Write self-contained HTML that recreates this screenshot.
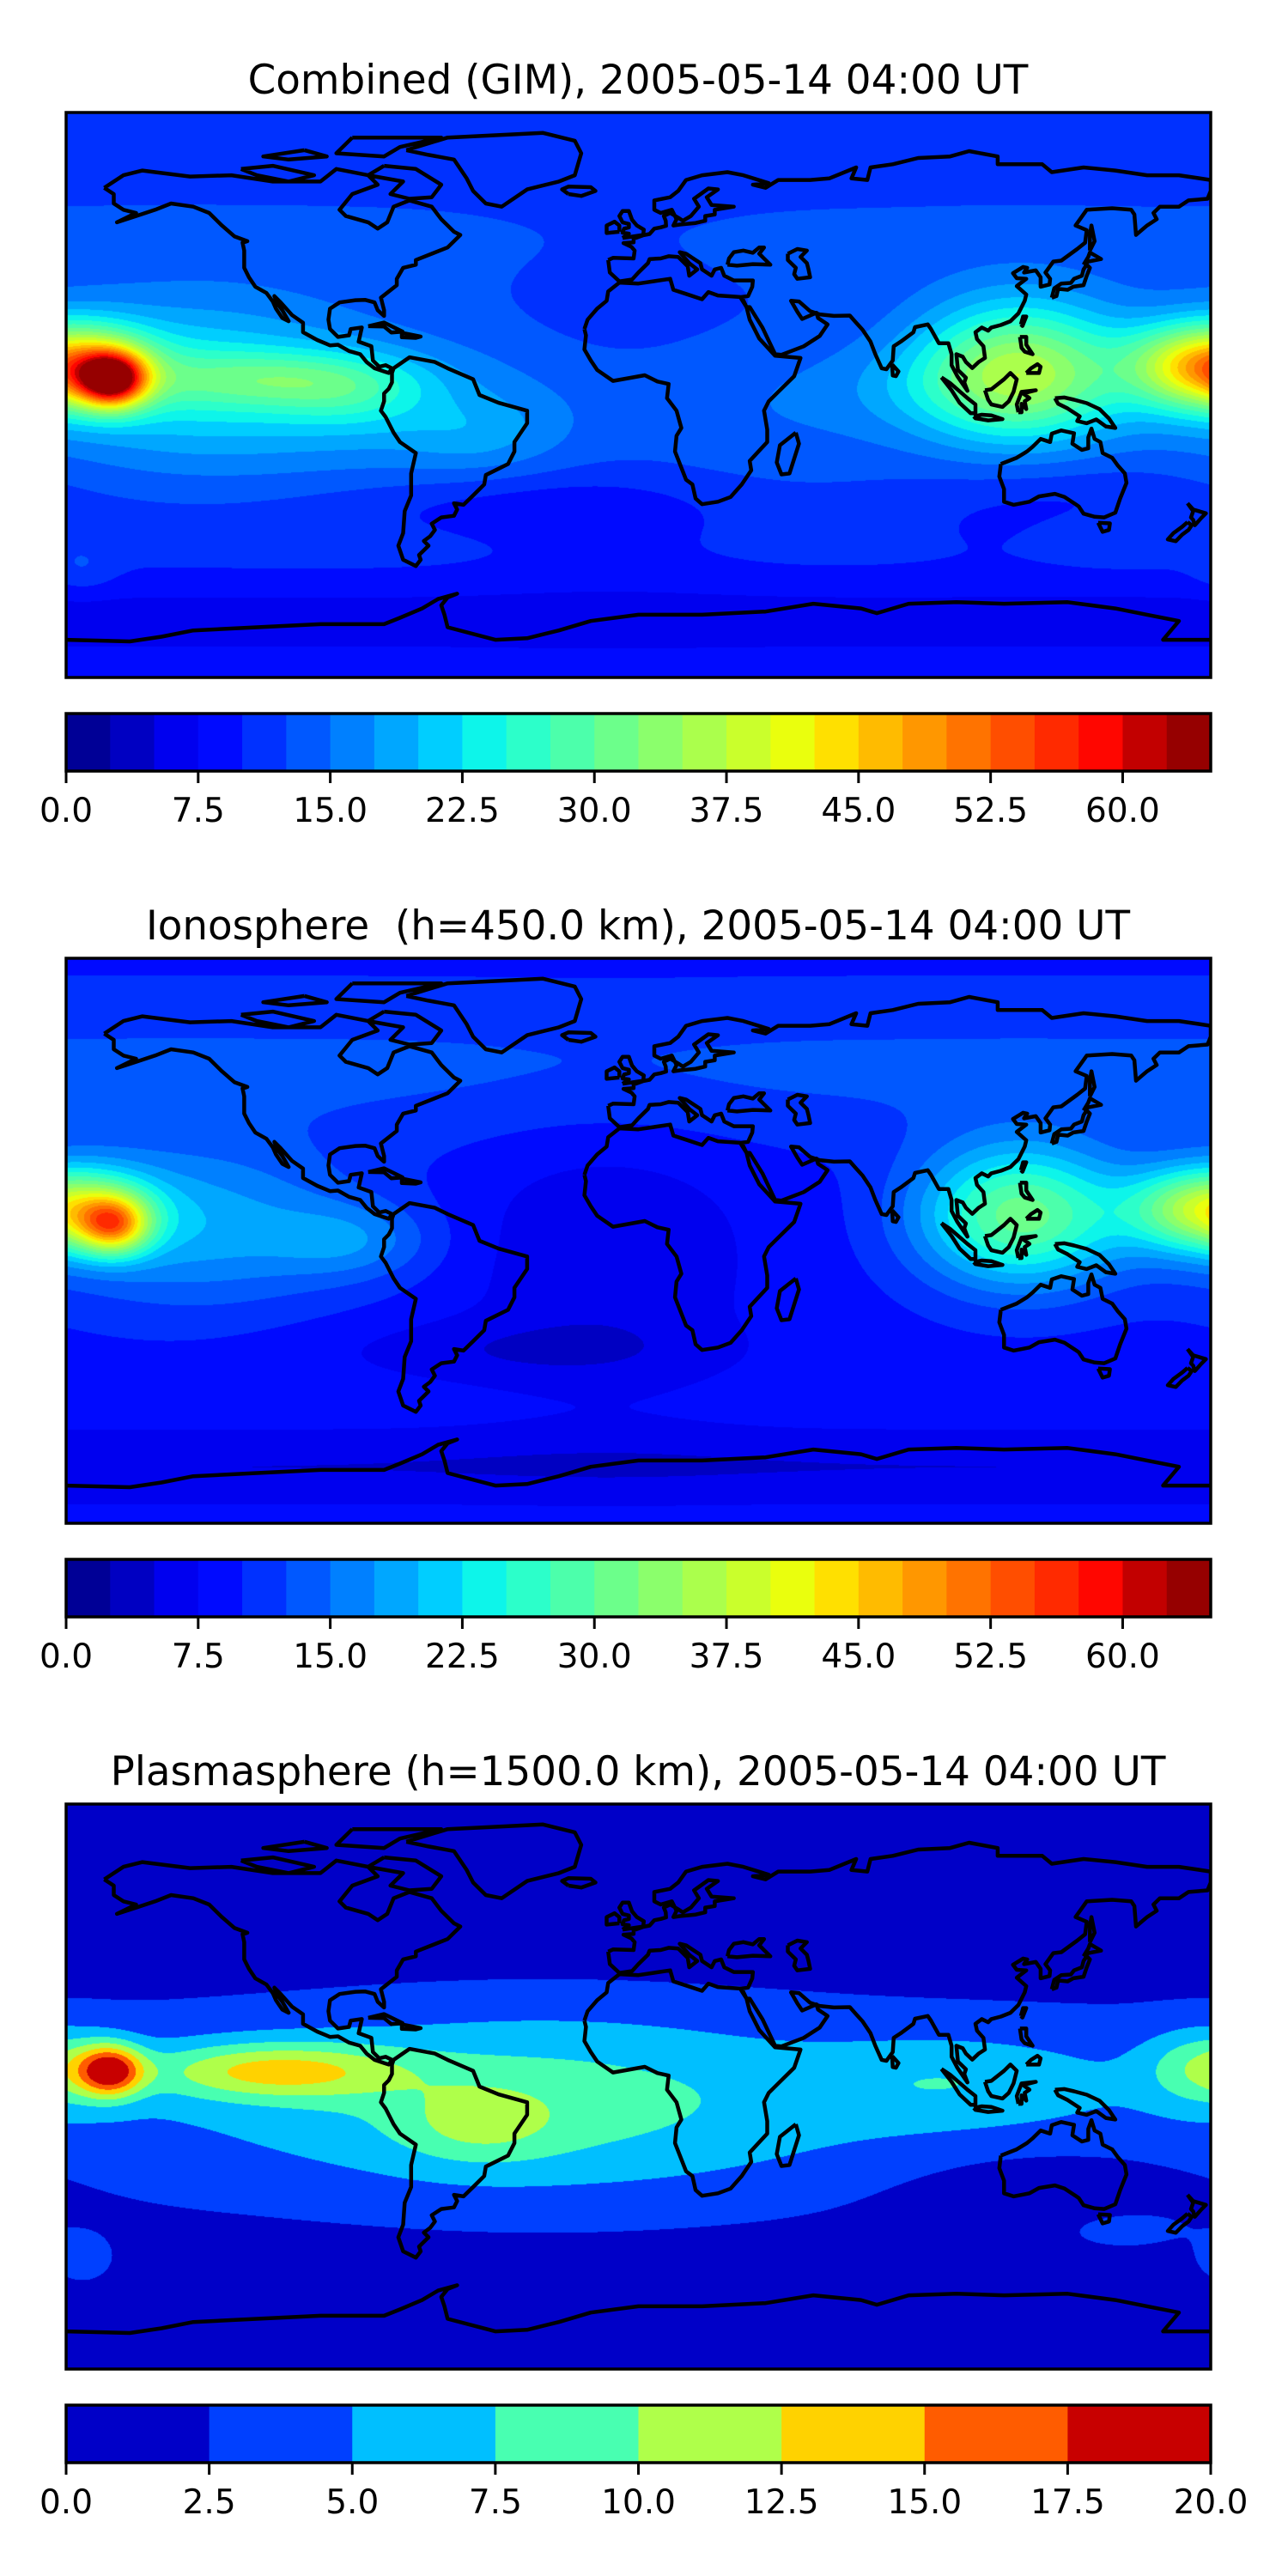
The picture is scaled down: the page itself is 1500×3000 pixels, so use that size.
<!DOCTYPE html>
<html><head><meta charset="utf-8">
<style>
html,body{margin:0;padding:0;background:#fff;}
#wrap{position:relative;width:1500px;height:3000px;overflow:hidden;background:#fff;}
canvas{position:absolute;left:77px;width:1333px;height:658px;background:#0031ff;}
svg{position:absolute;left:0;top:0;}
text{font-family:"DejaVu Sans","Liberation Sans",sans-serif;fill:#000;}
</style></head><body>
<div id="wrap">
<canvas id="c0" width="1333" height="658" style="top:131px"></canvas>
<canvas id="c1" width="1333" height="658" style="top:1116px;background:#000aff"></canvas>
<canvas id="c2" width="1333" height="658" style="top:2101px;background:#0000c8"></canvas>
<svg id="ov" width="1500" height="3000" viewBox="0 0 1500 3000">
<defs>
<clipPath id="mc"><rect x="77" y="0" width="1333" height="658"/></clipPath>
</defs>
<text x="743" y="109" font-size="46.8" text-anchor="middle">Combined (GIM), 2005-05-14 04:00 UT</text>
<text x="743" y="1094" font-size="46.8" text-anchor="middle" xml:space="preserve">Ionosphere  (h=450.0 km), 2005-05-14 04:00 UT</text>
<text x="743" y="2079" font-size="46.8" text-anchor="middle">Plasmasphere (h=1500.0 km), 2005-05-14 04:00 UT</text>
<g id="dyn"></g>
</svg>
</div>
<script>
var J=[[0,0,150],[0,0,194],[0,0,239],[0,10,255],[0,49,255],[0,88,255],[0,128,255],[0,167,255],[0,206,255],[13,245,234],[44,255,202],[76,255,171],[108,255,139],[139,255,108],[171,255,76],[202,255,44],[234,255,13],[255,224,0],[255,187,0],[255,151,0],[255,115,0],[255,78,0],[255,42,0],[255,6,0],[194,0,0],[150,0,0]];
var P=[[0,0,200],[0,64,255],[0,191,255],[72,255,177],[175,255,74],[255,210,0],[255,92,0],[200,0,0]];
function dl(lon,c){var d=lon-c;d=((d+540)%360+360)%360-180;return d;}
function G(dx,sx,dy,sy){return Math.exp(-(dx*dx)/(sx*sx)-(dy*dy)/(sy*sy));}
function Gl(dy,sy){return Math.exp(-(dy*dy)/(sy*sy));}
function plas(lon,lat){
 var v=1+3.2*Gl(lat+5,36);
 v+=4.5*G(dl(lon,-30),85,lat+5,30);
 v+=3*G(dl(lon,100),45,lat-2,14);
 v+=13*G(dl(lon,-166),10,lat-5,8);
 v+=8.5*G(dl(lon,-115),40,lat-5,9);
 v+=3.5*G(dl(lon,-50),24,lat+12,12);
 v+=6*G(dl(lon,178),18,lat-6,12);
 v+=2.5*G(dl(lon,150),25,lat+45,8)+2.5*G(dl(lon,-175),10,lat+55,8);
 v-=2.5*G(dl(lon,130),45,lat+35,15);
 v-=1.5*Gl(lat-60,20);
 return v;
}
function iono(lon,lat){
 var v=9+4*Gl(lat-55,25);
 v-=3.5*G(dl(lon,-10),45,lat+5,45);
 v-=4*Gl(lat+72,12);
 v-=3*G(dl(lon,-40),60,lat+35,10);
 v+=24*G(dl(lon,-165),11,lat-5,9);
 v+=26*G(dl(lon,180),24,lat-10,13);
 v+=22*G(dl(lon,120),32,lat-8,22);
 v+=10*G(dl(lon,-140),50,lat-5,25);
 v+=6*G(dl(lon,-90),25,lat,12);
 return v;
}
function draw(id,fn,cols,n){
 var c=document.getElementById(id),ctx=c.getContext('2d');
 var W=1333,H=658,img=ctx.createImageData(W,H),d=img.data;
 for(var y=0;y<H;y++){var lat=90-(y+0.5)*180/H;
  for(var x=0;x<W;x++){var lon=-180+(x+0.5)*360/W;
   var v=fn(lon,lat);var k=Math.floor(v/2.5);if(k<0)k=0;if(k>n-1)k=n-1;
   var cc=cols[k],o=(y*W+x)*4;d[o]=cc[0];d[o+1]=cc[1];d[o+2]=cc[2];d[o+3]=255;}}
 ctx.putImageData(img,0,0);
}
try{
draw('c0',function(a,b){return iono(a,b)+plas(a,b);},J,26);
draw('c1',iono,J,26);
draw('c2',plas,P,8);
}catch(e){}
var C=[
[[-168,66],[-162,70],[-156,71.5],[-141,69.6],[-128,70],[-115,68],[-100,68],[-95,72],[-85,70],[-82,67],[-90,64],[-94,59],[-92,57],[-85,55],[-82,53],[-79,55],[-77,60],[-72,62],[-65,60],[-62,56],[-58,52],[-56,51],[-60,47],[-65,45],[-70,43],[-70,41.5],[-74,40.5],[-76,37],[-76,35],[-81,31],[-80,27],[-80,25.2],[-82,27],[-83,29.5],[-86,30.3],[-89,30.2],[-94,29.5],[-97,27.5],[-97.5,24],[-97,21],[-94.5,18.5],[-91,19],[-90.5,21],[-87,21.5],[-88,17],[-84,15.5],[-83.5,11],[-81.5,9],[-79.5,9.5],[-77.5,8.5],[-78.5,7],[-80,7.5],[-83,8.5],[-85.5,10.5],[-87.5,13],[-91,14],[-94.5,16],[-97,15.8],[-101,17.5],[-105.5,20],[-105.5,23],[-109,25.5],[-112.5,29.5],[-114.5,31.5],[-113.5,29],[-112,27],[-110,23.5],[-112,24.5],[-114,27.5],[-115,29.8],[-117,32.5],[-120.5,34.5],[-122.5,37.5],[-124,40.5],[-124,46],[-124.5,48.5],[-123,49],[-127,50.5],[-131,54],[-135,58],[-140,60],[-147,61],[-152,59],[-158,57],[-164,55],[-158,58],[-162,59],[-165,61],[-165,64],[-168,66]],
[[-73,78],[-60,82],[-30,83.5],[-20,81],[-18,77],[-20,70],[-25,68],[-35,65.5],[-43,60],[-48,61],[-52,65],[-54,69],[-58,75],[-66,76.5],[-73,78]],
[[-80,73],[-70,72],[-62,67],[-65,63],[-72,62.5],[-78,64],[-74,68],[-85,70],[-80,73]],
[[-90,82],[-62,82],[-75,79],[-80,76],[-95,77],[-90,82]],
[[-125,72],[-115,73],[-102,70],[-110,68],[-120,70],[-125,72]],
[[-105,78],[-98,76],[-110,75],[-118,76],[-105,78]],
[[-77,8.5],[-72,12],[-64,10.5],[-60,8.5],[-52,5],[-50,0],[-44,-2.5],[-35,-5],[-35,-9],[-39,-15],[-39,-18],[-41,-22],[-48,-25.5],[-48.5,-28.5],[-52,-32],[-55,-35],[-58,-34.5],[-57,-36.5],[-58,-38.5],[-62,-39],[-65,-41],[-64,-43],[-65.5,-45],[-67.5,-46.5],[-66,-48],[-69,-51],[-68.5,-52.5],[-70,-54.5],[-74,-52.5],[-75.5,-48],[-74,-44],[-73.5,-37],[-71.5,-32],[-71.5,-25],[-70,-18.5],[-75,-15],[-77,-12],[-79.5,-7],[-81,-5],[-80,-2],[-80,0.5],[-78.5,2],[-77.5,4],[-77.5,7],[-77,8.5]],
[[-17,21],[-16,24],[-13,27.5],[-10,30],[-9.5,33],[-6,35.8],[0,35.5],[10,37],[11,33.5],[15,32.2],[20,30.5],[22,32.8],[25,31.7],[32,31.2],[34,28],[35,24],[38,18],[43,12.5],[51,11.8],[49,6],[44,1],[41,-2],[39.5,-5],[40.5,-11],[40.5,-15],[35,-21],[35.5,-24],[32.5,-28.5],[29,-32.5],[25,-34],[20,-34.8],[18,-33],[17,-28.5],[15,-27],[11.5,-18],[12,-13],[13.5,-10.5],[12,-5],[9,-1],[9.5,3.5],[6,4.3],[2,6.3],[-4,5.2],[-8,4.5],[-13,8],[-15,11],[-17,14.5],[-16.5,19],[-17,21]],
[[49.5,-12],[50.5,-15.5],[47.5,-25],[45,-25.3],[43.5,-21.5],[44.5,-16],[49.5,-12]],
[[-9.5,43],[-9,39],[-6,36.2],[-2,36.8],[0,39],[3,42],[3.5,43.3],[7,43.5],[9.5,44.2],[12.5,44],[15.5,41],[16,38],[18.5,40],[16,42],[13,45.5],[15,45],[19.5,42],[20,40],[23,38],[24,40],[26,40.5],[27,38],[30,36.5],[36,36.5],[35.8,34.5],[34.5,31.5],[32.5,31.2],[34,28],[35,28],[39,21.5],[43,13],[45,12.8],[52,15.5],[57,18.8],[59.5,22.5],[56.5,24.5],[56,26.2],[51.5,24.2],[50,26.5],[48,30],[50.5,29.8],[54,26.7],[57,25.7],[61.5,25.2],[66.5,25.3],[68.5,23],[70.5,20.8],[73,17],[74.5,13],[76.5,8.5],[78,8.2],[80,11],[80.3,15.5],[82.5,17],[86.5,20],[87,21.6],[91,22.5],[92,21],[94.5,16.5],[97.5,16.5],[98.5,13],[98.5,9.5],[100.3,6],[103.5,1.3],[102.5,4],[103,5.5],[100.5,8],[100,13],[102,12.2],[103,10.5],[105,8.6],[107,10.5],[109,11.8],[108.5,15.5],[106.5,17.8],[106,20],[108,21.5],[110,20.5],[111,21.5],[114,22.3],[117,23.5],[119.5,26],[121.5,30],[122,32],[119,34.7],[122,37],[119,37.2],[117.8,38.8],[121,40.8],[122.3,40.5],[121.3,39],[125,39.7],[126.5,37.5],[126.5,34.5],[129.3,35.2],[129.5,37],[128,39],[130.5,42.5],[133,42.8],[138,46.5],[140.5,48.5],[141,52.5],[137.5,54],[141,59],[149,59.5],[155,59],[156,57.5],[156.5,51],[160,54],[163,56],[162,58],[164,60],[170,60],[173,62],[179,62.5],[180,65],[180,68.5],[170,70],[160,70],[150,71.5],[140,72.5],[130,71],[127,73.5],[113,73.5],[113,76],[104,77.7],[98,76],[88,75.5],[80,73.5],[73,72.5],[72,68.5],[67,69],[68.5,72.5],[60,69],[54,68.5],[44,68.5],[40,66],[36,67],[41,67.5],[33,70],[28,71],[20,70],[15,68.5],[12.5,65],[10,63],[5,62],[5,59],[7,58],[10.5,59],[12,56],[11,54],[13,54.3],[18,54.8],[21,55.5],[21,57],[24,57.5],[24,59],[30,60],[23,60.5],[21.5,63],[25,65.5],[22,65.8],[17.5,62.5],[19,60],[16.5,57],[14,55.5],[12.5,56.5],[10,58],[8,57],[8.6,55.5],[8.7,53.9],[7,53.4],[5,53],[3.5,51.3],[1.6,50.9],[-1.5,49.8],[-1.5,48.6],[-4.7,48.4],[-2.2,47.2],[-1.2,46],[-1.5,43.5],[-8,43.7],[-9.5,43]],
[[28,41.5],[28.5,43.5],[30,45.5],[33,46],[36,45.3],[38,47],[39.5,47],[38,45],[41.5,41.5],[36,41.7],[31,41.2],[28,41.5]],
[[47,45],[50,46.5],[53,46],[51,44],[53,42],[53.5,40],[54,37.5],[50,37],[49,38.5],[49.5,40.5],[47,43],[47,45]],
[[-5,50],[1.5,51],[1.7,52.7],[-0.5,54],[-2,55.8],[-3,58.6],[-5,58.6],[-6,57],[-5,55],[-3,54.5],[-3,53.4],[-4.5,53],[-5,51.7],[-3,51.4],[-5,50]],
[[-6,52],[-6,54],[-7.5,55.2],[-10,54],[-10,51.6],[-6,52]],
[[-22,64],[-24,65.5],[-22,66.4],[-15,66.2],[-13.5,65],[-18,63.4],[-22,64]],
[[130,31],[131.5,31.5],[132,33.8],[135,33.5],[136.8,34.5],[140,35],[141,38],[142,40.5],[141,41.5],[140,40],[139.5,38],[137,37],[136,35.7],[133,35.5],[130.8,34],[130,31]],
[[140,41.5],[141.5,42.5],[145.5,43.3],[142,45.4],[141.5,44],[140,41.5]],
[[142,46],[143.5,49],[142.5,54],[142,51],[142,46]],
[[120.3,22.5],[121,25],[122,25],[120.8,22],[120.3,22.5]],
[[120,18.5],[122,18.5],[122,16],[124,13],[121.5,13.8],[120.5,15],[120,18.5]],
[[122,7],[126,7],[126.5,9],[125.5,9.8],[123.5,8.5],[122,7]],
[[109,1.5],[110,-1.5],[111,-3],[114.5,-3.8],[116.5,-2],[118,1],[119,5],[117,7],[115,5],[111,1.8],[109,1.5]],
[[95.3,5.6],[98,3.8],[103.5,-1],[106,-3],[106,-5.8],[104.5,-5.8],[101,-2.5],[98.5,1.5],[95.3,5.6]],
[[105.5,-6.8],[108,-6.3],[111,-6.5],[114.5,-7.7],[110,-8.1],[106,-7.4],[105.5,-6.8]],
[[119.5,-5.5],[119,-3],[120.5,1],[125,1.5],[121,0.5],[123,-1],[121.5,-2],[122,-4.5],[120.5,-2.8],[120.5,-5.5],[119.5,-5.5]],
[[131,-1],[134,-0.8],[137,-1.5],[141,-2.6],[145,-4.5],[148,-7.5],[150,-10.5],[147,-10],[144,-7.8],[141,-9],[138,-8.3],[138.8,-6.8],[135,-4.3],[132,-2.8],[131,-1]],
[[114,-22],[113.5,-26],[115,-30],[115,-34],[118,-35],[123,-34],[126,-32.3],[131,-31.5],[134,-32.5],[137.5,-34.8],[138.5,-35.5],[140,-37.8],[143.5,-38.8],[146.5,-39],[150,-37.5],[151.5,-33],[153.5,-28],[153,-25],[150.8,-22.5],[149,-20],[146,-18.5],[145.3,-15],[143.5,-14],[142.5,-10.7],[141.5,-13.5],[141.5,-17],[139.5,-17.5],[136.5,-15.5],[137,-12.2],[133,-11.3],[130,-12.3],[129.5,-15],[126.5,-14],[124,-16.5],[122.2,-18],[119,-20],[114,-22]],
[[144.6,-40.7],[148.3,-40.9],[148,-43],[146,-43.6],[144.6,-40.7]],
[[172.7,-34.5],[174.5,-36.5],[178.5,-37.7],[177,-39.2],[175,-41.5],[174.5,-39.8],[173.8,-39],[174.5,-37],[172.7,-34.5]],
[[172.7,-40.5],[174,-41.5],[173,-43],[171,-44.5],[169,-46.6],[166.5,-46],[168.3,-44],[171,-42],[172.7,-40.5]],
[[79.8,9.7],[81.8,7.5],[81,6],[80,6.2],[79.8,9.7]],
[[-85,21.9],[-80,23.1],[-74.2,20.2],[-77.7,19.9],[-80,21.8],[-85,21.9]],
[[-74.4,19.8],[-68.5,18.6],[-70,18.2],[-74.4,18.4],[-74.4,19.8]],
[[-180,-78],[-160,-78.5],[-150,-77],[-140,-75],[-120,-74],[-100,-73],[-80,-73],[-75,-71],[-68,-68],[-63,-65],[-57,-63.3],[-60,-64.5],[-62,-67],[-61,-70],[-60,-74],[-45,-78],[-35,-77.5],[-25,-75],[-15,-72],[0,-70],[20,-70],[40,-69],[55,-66.5],[70,-68],[75,-69.5],[85,-66.5],[100,-66],[115,-66.5],[135,-66],[150,-68],[160,-70],[170,-72],[165,-78],[180,-78]]
];
var NS='http://www.w3.org/2000/svg';
var dyn=document.getElementById('dyn');
function el(t,a,p){var e=document.createElementNS(NS,t);for(var k in a)e.setAttribute(k,a[k]);(p||dyn).appendChild(e);return e;}
var dstr='';
C.forEach(function(poly){poly.forEach(function(p,i){var x=77+(p[0]+180)*1333/360,y=(90-p[1])*658/180;dstr+=(i?'L':'M')+x.toFixed(1)+' '+y.toFixed(1);});});
var J2=J.map(function(c){return 'rgb('+c.join(',')+')';}),P2=P.map(function(c){return 'rgb('+c.join(',')+')';});
for(var k=0;k<3;k++){
 var dy=k*985;
 var g=el('g',{transform:'translate(0,'+(131+dy)+')'});
 var cg=el('g',{'clip-path':'url(#mc)'},g);
 el('path',{d:dstr,fill:'none',stroke:'#000','stroke-width':4.5,'stroke-linejoin':'round'},cg);
 el('rect',{x:77,y:0,width:1333,height:658,fill:'none',stroke:'#000','stroke-width':3.5},g);
 var cy=831+dy;
 var cols=k<2?J2:P2,n=cols.length,vmax=k<2?65:20;
 for(var i=0;i<n;i++){var x0=77+i*1333/n;el('rect',{x:x0.toFixed(2),y:cy,width:(1333/n+0.6).toFixed(2),height:67,fill:cols[i]});}
 el('rect',{x:77,y:cy,width:1333,height:67,fill:'none',stroke:'#000','stroke-width':3.5});
 var step=k<2?7.5:2.5,cnt=9;
 for(var t=0;t<cnt;t++){var v=t*step;var x=77+v*1333/vmax;
  el('line',{x1:x,y1:cy+67,x2:x,y2:cy+81,stroke:'#000','stroke-width':3});
  var tx=el('text',{x:x,y:cy+126,'font-size':39,'text-anchor':'middle'});tx.textContent=v.toFixed(1);}
}
</script>
</body></html>
